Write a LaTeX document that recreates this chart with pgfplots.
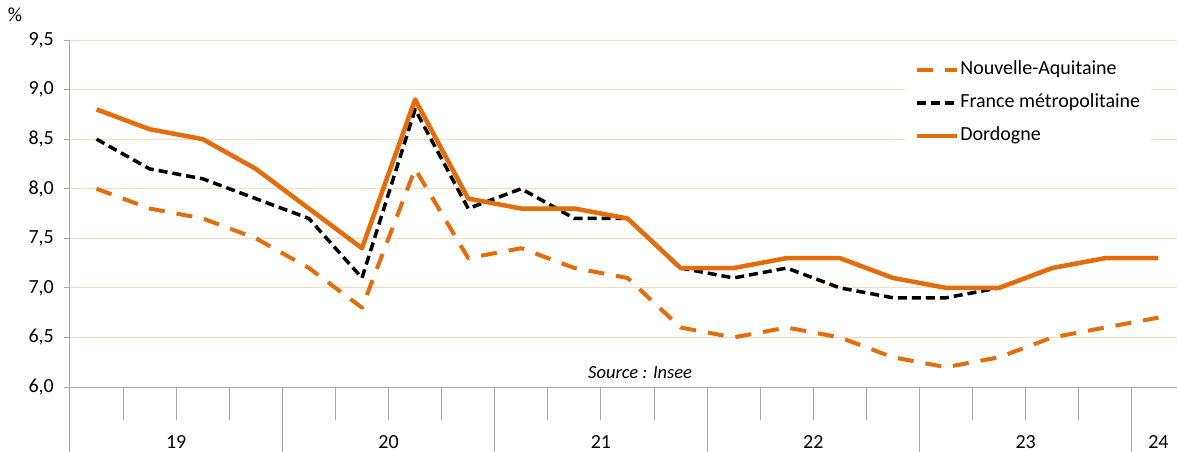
\documentclass[border=0pt]{standalone}
\usepackage{fontspec}
\setmainfont{Carlito}
\usepackage{pgfplots}
\pgfplotsset{compat=1.18}
\definecolor{orangeL}{HTML}{E46C0A}
\definecolor{gridc}{HTML}{FCD9BC}
\definecolor{axisc}{HTML}{A6A6A6}

% quarters 2019T1 .. 2024T1 at x = 0..20
\pgfplotstableread{
x  na   fr   dor
0  8.0  8.5  8.8
1  7.8  8.2  8.6
2  7.7  8.1  8.5
3  7.5  7.9  8.2
4  7.2  7.7  7.8
5  6.8  7.1  7.4
6  8.2  8.8  8.9
7  7.3  7.8  7.9
8  7.4  8.0  7.8
9  7.2  7.7  7.8
10 7.1  7.7  7.7
11 6.6  7.2  7.2
12 6.5  7.1  7.2
13 6.6  7.2  7.3
14 6.5  7.0  7.3
15 6.3  6.9  7.1
16 6.2  6.9  7.0
17 6.3  7.0  7.0
18 6.5  7.2  7.2
19 6.6  7.3  7.3
20 6.7  7.3  7.3
}\chomage

\begin{document}
\fontsize{20}{24}\selectfont
\begin{tikzpicture}
\begin{axis}[
  at={(0,0)}, anchor=south west,
  scale only axis, width=1107pt, height=347pt,
  xmin=-0.5, xmax=20.35, ymin=6, ymax=9.5,
  clip=false,
  axis lines*=left,
  axis line style={axisc, line width=1pt},
  tick align=outside,
  ytick={6,6.5,7,7.5,8,8.5,9,9.5},
  ymajorgrids, grid style={gridc, line width=1pt},
  y tick style={axisc, line width=1pt, /pgfplots/major tick length=6pt},
  yticklabel style={xshift=-5pt, /pgf/number format/.cd, fixed, fixed zerofill, precision=1, use comma, assume math mode=true},
  xtick={-0.5,3.5,7.5,11.5,15.5,19.5},
  xticklabels={},
  x tick style={axisc, line width=1pt, /pgfplots/major tick length=70pt},
  minor xtick={0.5,1.5,2.5,4.5,5.5,6.5,8.5,9.5,10.5,12.5,13.5,14.5,16.5,17.5,18.5},
  minor tick length=33pt,
  minor x tick style={axisc, line width=1pt},
  legend style={at={(0.754,0.968)}, anchor=north west, draw=none, fill=white,
    inner xsep=10pt, inner ysep=2pt, row sep=0pt, column sep=0pt,
    nodes={inner xsep=1pt, inner ysep=7pt, text height=14pt, text depth=5pt}},
  legend cell align=left,
  legend image code/.code={\draw[#1] (0pt,0pt) -- (40pt,0pt);},
]
\addplot[orangeL, line width=4pt, dash pattern=on 16pt off 12pt, line join=round] table[x=x, y=na] {\chomage};
\addlegendentry{Nouvelle-Aquitaine}
\addplot[black, line width=3.5pt, dash pattern=on 9pt off 5pt, line join=round] table[x=x, y=fr] {\chomage};
\addlegendentry{France métropolitaine}
\addplot[orangeL, line width=4.5pt, line join=round] table[x=x, y=dor] {\chomage};
\addlegendentry{Dordogne}
\node[font=\itshape\fontsize{18.5}{22}\selectfont] at (rel axis cs:0.515,0.043) {Source : Insee};
% year labels under the quarter groups
\node[anchor=north, inner sep=0pt, yshift=-48pt] at (axis cs:1.5,6) {19};
\node[anchor=north, inner sep=0pt, yshift=-48pt] at (axis cs:5.5,6) {20};
\node[anchor=north, inner sep=0pt, yshift=-48pt] at (axis cs:9.5,6) {21};
\node[anchor=north, inner sep=0pt, yshift=-48pt] at (axis cs:13.5,6) {22};
\node[anchor=north, inner sep=0pt, yshift=-48pt] at (axis cs:17.5,6) {23};
\node[anchor=north, inner sep=0pt, yshift=-48pt] at (axis cs:20,6) {24};
\end{axis}
\node at (-55pt,372pt) {\%};
\pgfresetboundingbox
\useasboundingbox (-70pt,-64pt) rectangle (1107pt,387pt);
\end{tikzpicture}
\end{document}
